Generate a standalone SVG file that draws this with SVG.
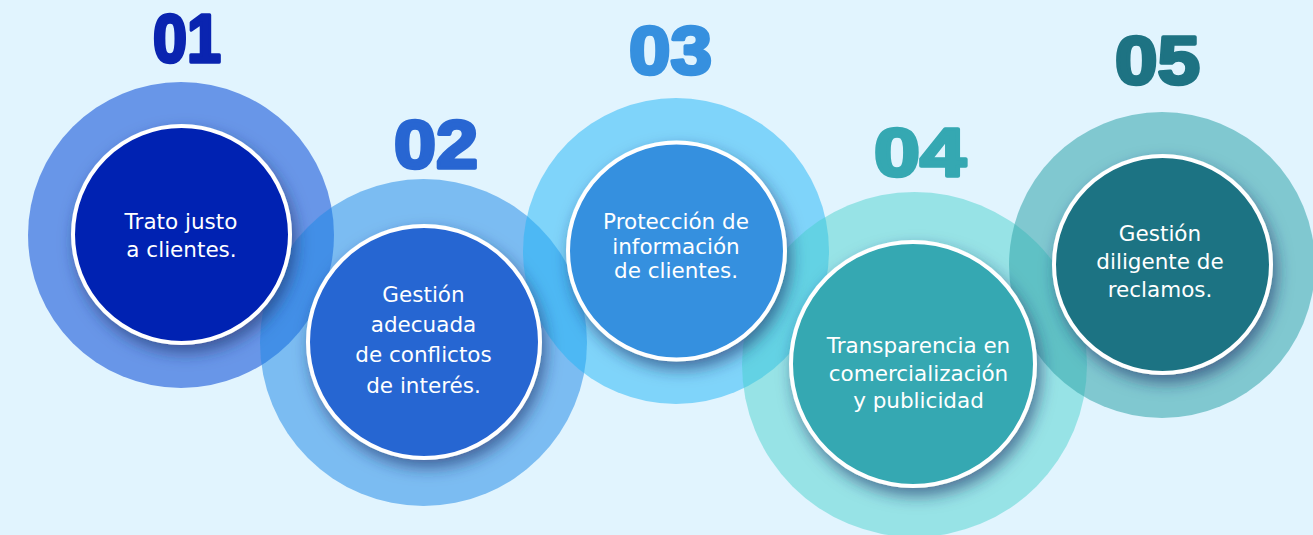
<svg xmlns="http://www.w3.org/2000/svg" width="1313" height="535" viewBox="0 0 1313 535">
  <defs>
    <filter id="shadow" x="-30%" y="-30%" width="160%" height="160%">
      <feDropShadow dx="4" dy="8" stdDeviation="8" flood-color="#1b2a66" flood-opacity="0.6"/>
    </filter>
  </defs>
  <style>
    .inner { stroke: #ffffff; stroke-width: 4; filter: url(#shadow); }
    .num { font-family: "Liberation Sans", Arial, sans-serif; font-weight: 700; font-size: 69px; text-anchor: middle; stroke-width: 3.5; stroke-linejoin: round; }
    .lbl { font-family: "DejaVu Sans", "Liberation Sans", sans-serif; font-size: 21.5px; fill: #ffffff; text-anchor: middle; }
  </style>
  <rect x="0" y="0" width="1313" height="535" fill="#E1F4FE"/>

  <g id="halos">
    <circle cx="181" cy="235" r="153" fill="#6896E8"/>
    <circle cx="423.5" cy="342.5" r="163.5" fill="#2089E7" fill-opacity="0.53"/>
    <circle cx="676" cy="251" r="153" fill="#21B5F6" fill-opacity="0.51"/>
    <circle cx="914.5" cy="364.5" r="172.5" fill="#45D0CC" fill-opacity="0.47"/>
    <circle cx="1162" cy="265" r="153" fill="#34A5AC" fill-opacity="0.56"/>
  </g>

  <g id="connectors"/>

  <g id="node-01">
    <circle class="inner" cx="181.5" cy="234.5" r="108.5" fill="#0224B2"/>
    <text class="num" x="187" y="62" fill="#0A24B0" stroke="#0A24B0" textLength="68" lengthAdjust="spacingAndGlyphs">01</text>
    <text class="lbl" x="181" y="229">Trato justo</text>
    <text class="lbl" x="181.5" y="257">a clientes.</text>
  </g>

  <g id="node-02">
    <circle class="inner" cx="424" cy="342" r="116" fill="#2866D2"/>
    <text class="num" x="436" y="168" fill="#2866D2" stroke="#2866D2" textLength="84" lengthAdjust="spacingAndGlyphs">02</text>
    <text class="lbl" x="423.5" y="302">Gestión</text>
    <text class="lbl" x="423.5" y="332">adecuada</text>
    <text class="lbl" x="423.5" y="362">de conflictos</text>
    <text class="lbl" x="423.5" y="393">de interés.</text>
  </g>

  <g id="node-03">
    <circle class="inner" cx="676.5" cy="251" r="108.5" fill="#3690DF"/>
    <text class="num" x="670.5" y="74" fill="#3690DF" stroke="#3690DF" textLength="83" lengthAdjust="spacingAndGlyphs">03</text>
    <text class="lbl" x="676" y="229">Protección de</text>
    <text class="lbl" x="676" y="254">información</text>
    <text class="lbl" x="676" y="278">de clientes.</text>
  </g>

  <g id="node-04">
    <circle class="inner" cx="913" cy="364" r="122" fill="#35A8B2"/>
    <text class="num" x="920" y="176" fill="#35A8B2" stroke="#35A8B2" textLength="92" lengthAdjust="spacingAndGlyphs">04</text>
    <text class="lbl" x="918.5" y="353">Transparencia en</text>
    <text class="lbl" x="918.5" y="381">comercialización</text>
    <text class="lbl" x="918.5" y="408">y publicidad</text>
  </g>

  <g id="node-05">
    <circle class="inner" cx="1162.5" cy="264.5" r="108.5" fill="#1E7383"/>
    <text class="num" x="1157.5" y="84" fill="#1E7383" stroke="#1E7383" textLength="85" lengthAdjust="spacingAndGlyphs">05</text>
    <text class="lbl" x="1160" y="241">Gestión</text>
    <text class="lbl" x="1160" y="269">diligente de</text>
    <text class="lbl" x="1160" y="297">reclamos.</text>
  </g>
</svg>
